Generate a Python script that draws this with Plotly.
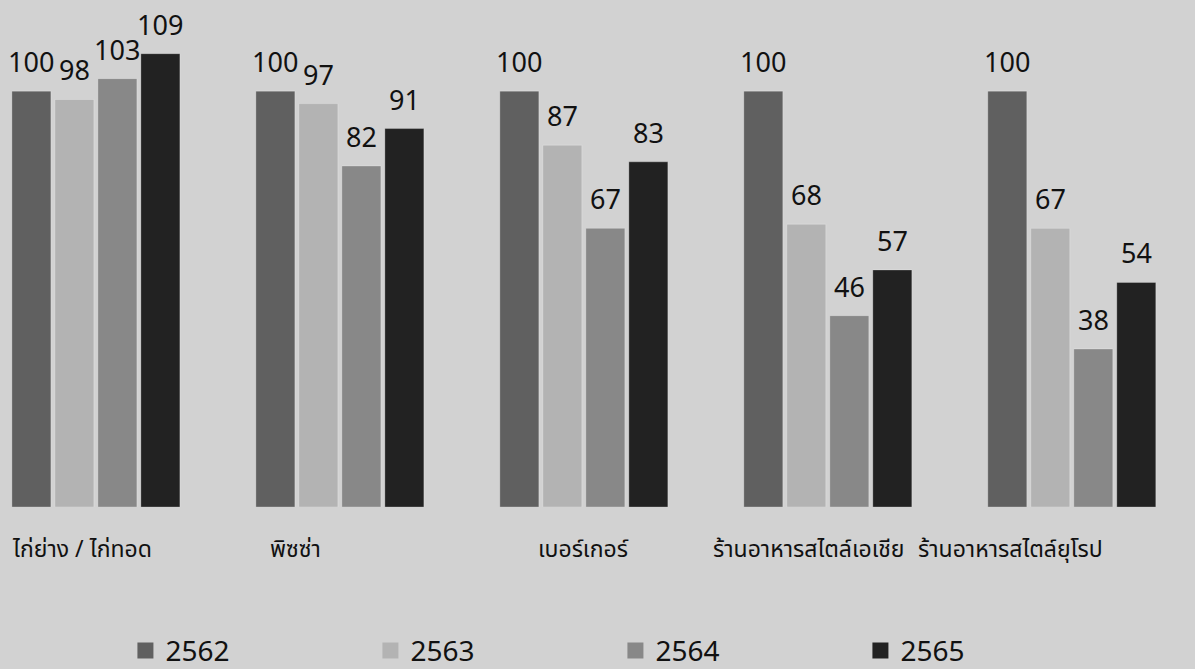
import plotly.graph_objects as go

categories = ["ไก่ย่าง / ไก่ทอด", "พิซซ่า", "เบอร์เกอร์", "ร้านอาหารสไตล์เอเชีย", "ร้านอาหารสไตล์ยุโรป"]
years = ["2562", "2563", "2564", "2565"]
v2562 = [100, 100, 100, 100, 100]
v2563 = [98, 97, 87, 68, 67]
v2564 = [103, 82, 67, 46, 38]
v2565 = [109, 91, 83, 57, 54]

series = [v2562, v2563, v2564, v2565]
colors = ["#606060", "#b3b3b3", "#888888", "#222222"]
label_shift = [-14, -44, 0, -19, -61]

FONT = "Noto Sans, Noto Sans Thai, sans-serif"
BARGAP = 0.295
BARGROUPGAP = 0.093

fig = go.Figure()
idx = list(range(len(categories)))
nser = len(series)
slot = (1 - BARGAP) / nser
for k, (name, vals, col) in enumerate(zip(years, series, colors)):
    fig.add_trace(go.Bar(
        x=idx, y=vals, name=name, showlegend=False,
        marker=dict(color=col, line=dict(color="rgba(255,255,255,0.25)", width=1)),
        hoverinfo="y",
    ))
    fig.add_trace(go.Scatter(
        x=[None], y=[None], mode="markers", name=name, showlegend=True,
        marker=dict(symbol="square", size=16, color=col),
    ))
    off = (k - (nser - 1) / 2) * slot
    for i, v in enumerate(vals):
        fig.add_annotation(
            x=i + off, xref="x", y=v, yref="y", yanchor="bottom", yshift=9,
            text=str(v), showarrow=False,
            font=dict(size=27, color="#111111", family=FONT),
        )

for i, c in enumerate(categories):
    fig.add_annotation(
        x=i, xref="x", y=0, yref="paper", yanchor="middle", yshift=-41,
        xshift=label_shift[i], text=c, showarrow=False,
        font=dict(size=23, color="#111111", family=FONT),
    )

fig.update_layout(
    width=1195, height=669,
    margin=dict(l=0, r=0, t=30, b=162, autoexpand=False),
    paper_bgcolor="#d2d2d2", plot_bgcolor="#d2d2d2",
    barmode="group", bargap=BARGAP, bargroupgap=BARGROUPGAP,
    font=dict(family=FONT, color="#111111"),
    xaxis=dict(range=[-0.393, 4.505], showticklabels=False, showgrid=False,
               zeroline=False, showline=False, ticks=""),
    yaxis=dict(range=[0, 114.7], visible=False),
    legend=dict(orientation="h", x=0.515, xanchor="center", y=-0.249, yanchor="top",
                font=dict(size=28, color="#111111", family=FONT),
                itemsizing="trace", entrywidth=200, entrywidthmode="pixels",
                bgcolor="rgba(0,0,0,0)", borderwidth=0),
    showlegend=True,
)

fig.write_html("out.html", config={"displayModeBar": False},
               post_script="document.body.style.margin='0';document.body.style.overflow='hidden';")
